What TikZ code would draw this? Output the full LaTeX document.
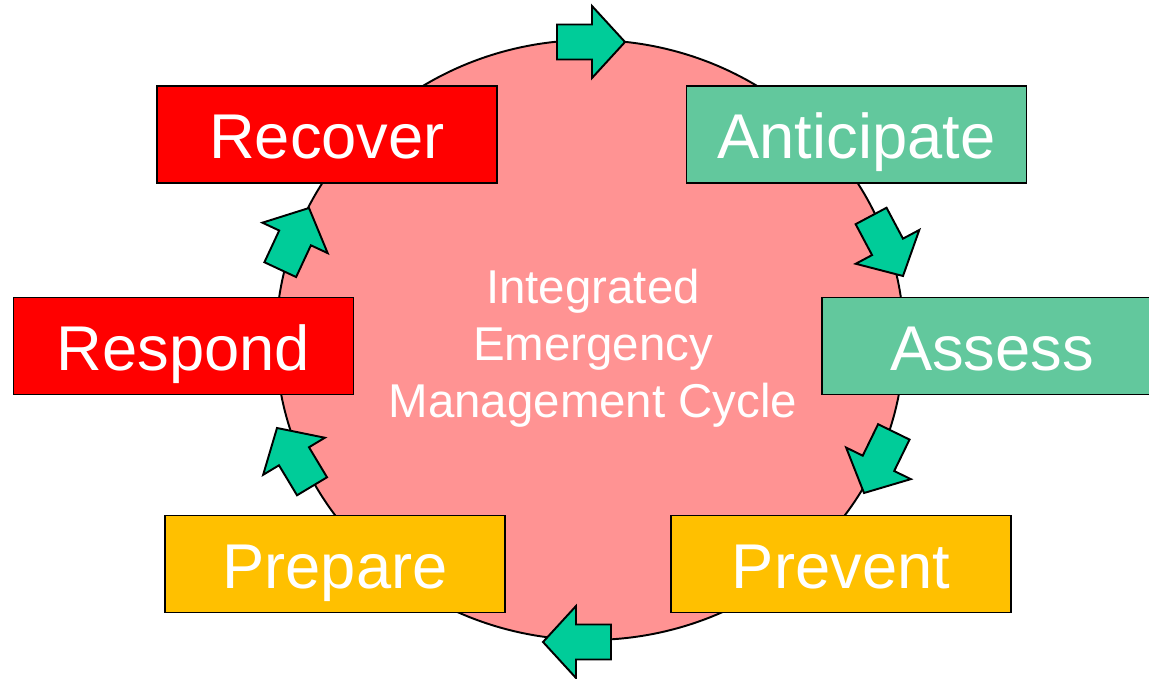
\documentclass[tikz,border=0pt]{standalone}
\usepackage{fontspec}
\setmainfont{Liberation Sans}
\definecolor{cyclepink}{RGB}{255,147,147}
\definecolor{phasered}{RGB}{255,0,0}
\definecolor{phasegreen}{RGB}{98,200,157}
\definecolor{phaseorange}{RGB}{255,192,0}
\definecolor{arrowgreen}{RGB}{0,204,153}
\begin{document}
\begin{tikzpicture}[
        phase/.style={draw, line width=1.1pt, minimum width=6.8cm, minimum height=1.94cm,
            text height=1.1cm, text depth=0.14cm,
            text=white, font=\fontsize{36}{40}\selectfont},
        blockarrow/.pic={
            \draw[line width=1.1pt, fill=arrowgreen] (0,0) -- (-0.66,0.72) -- (-0.66,0.35)
                -- (-1.36,0.35) -- (-1.36,-0.35) -- (-0.66,-0.35) -- (-0.66,-0.72) -- cycle;
        }
    ]
        \useasboundingbox (0,0) rectangle (22.98,13.56);
        \clip (0,0) rectangle (22.98,13.56);

        % Cycle
        \draw[line width=1.1pt, fill=cyclepink] (11.8,6.76) ellipse [x radius=6.28, y radius=6.0];
        \node[text=white, align=center, font=\fontsize{27}{32.4}\selectfont] (cycle) at (11.86,6.6)
            {Integrated\\Emergency\\Management Cycle};

        % Phases
        \node[phase, fill=phasered] (recover) at (6.54,10.87) {Recover};
        \node[phase, fill=phasegreen] (anticipate) at (17.13,10.87) {Anticipate};
        \node[phase, fill=phasered] (respond) at (3.67,6.64) {Respond};
        \node[phase, fill=phasegreen] (assess) at (19.84,6.64) {Assess};
        \node[phase, fill=phaseorange] (prepare) at (6.70,2.28) {Prepare};
        \node[phase, fill=phaseorange] (prevent) at (16.82,2.28) {Prevent};

        % Arrows round the cycle
        \foreach \i/\x/\y/\a in {1/12.5/12.72/0, 2/18.06/8.04/-62, 3/17.28/3.70/-116,
                4/10.86/0.72/180, 5/5.54/5.0/121, 6/6.18/9.4/65}{
            \coordinate (tip\i) at (\x,\y);
            \pic[rotate=\a] at (tip\i) {blockarrow};
        }

    \end{tikzpicture}
\end{document}
